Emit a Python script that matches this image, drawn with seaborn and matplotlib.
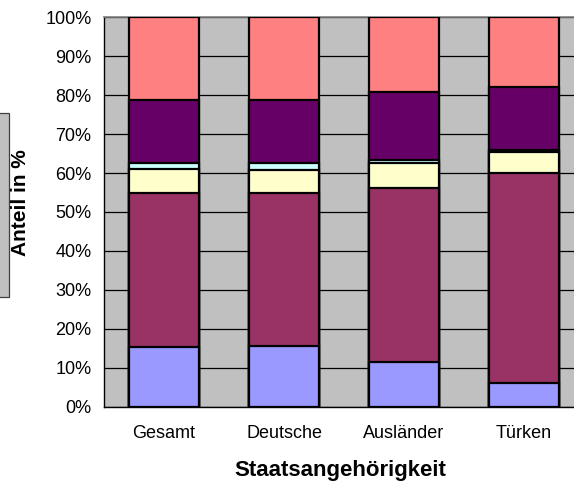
import matplotlib
matplotlib.use("Agg")
import matplotlib.pyplot as plt
import matplotlib.patches as mpatches
import seaborn as sns
import numpy as np

categories = ["Gesamt", "Deutsche", "Ausländer", "Türken"]
seg_blue = [15.3, 15.7, 11.4, 6.2]
seg_maroon = [39.7, 39.1, 44.8, 53.7]
seg_yellow = [6.0, 6.0, 6.5, 5.4]
seg_cyan = [1.7, 1.9, 0.6, 0.6]
seg_purple = [16.0, 16.0, 17.4, 16.2]
seg_salmon = [21.3, 21.3, 19.3, 17.9]

segments = [seg_blue, seg_maroon, seg_yellow, seg_cyan, seg_purple, seg_salmon]
colors = ["#9999FF", "#993366", "#FFFFCC", "#CCFFFF", "#660066", "#FF8080"]
yticklabels = [f"{v}%" for v in range(0, 101, 10)]

sns.set_style("white")
plt.rcParams["font.family"] = ["Liberation Sans", "DejaVu Sans"]
plt.rcParams["text.color"] = "black"
plt.rcParams["xtick.color"] = "black"
plt.rcParams["ytick.color"] = "black"

W, H = 574, 484
fig = plt.figure(figsize=(W / 100, H / 100), dpi=100)
left, right, top, bottom = 104, 584, 17.3, 406.7
ax = fig.add_axes([left / W, 1 - bottom / H, (right - left) / W, (bottom - top) / H])
ax.set_facecolor("#C0C0C0")

cum = np.cumsum(np.array(segments), axis=0)
for i in range(len(segments) - 1, -1, -1):
    sns.barplot(x=categories, y=cum[i], color=colors[i], saturation=1,
                width=0.583, edgecolor="black", linewidth=1.6, ax=ax, zorder=3)

ax.set_xlim(-0.5, 3.5)
ax.set_ylim(0, 100)
ax.set_yticks(range(0, 101, 10))
ax.set_yticklabels(yticklabels, fontsize=13)
ax.yaxis.grid(True, color="black", linewidth=0.9, zorder=0)
ax.set_axisbelow(True)

ax.set_xticks([0.5, 1.5, 2.5], minor=True)
ax.set_xticks(range(4))
ax.set_xticklabels(categories, fontsize=13)
ax.tick_params(axis="x", which="major", length=0, pad=13)
ax.tick_params(axis="x", which="minor", length=5, width=0.8, color="black", direction="out")
ax.tick_params(axis="y", length=5, width=0.8, color="black", direction="out", pad=4)

for s in ["left", "bottom"]:
    ax.spines[s].set_color("black")
    ax.spines[s].set_linewidth(1.0)
ax.spines["top"].set_color("#808080")
ax.spines["top"].set_linewidth(1.2)
ax.spines["right"].set_visible(False)

ax.set_xlabel("")
ax.set_ylabel("")
fig.text(340 / W, 1 - 476 / H, "Staatsangehörigkeit", ha="center", va="baseline",
         fontsize=16, fontweight="bold")
fig.text(21 / W, 1 - 203 / H, "Anteil in %", ha="center", va="center",
         rotation=90, fontsize=15, fontweight="bold")

rect = mpatches.Rectangle((-10 / W, 1 - 297 / H), 19 / W, (297 - 113) / H,
                          transform=fig.transFigure, facecolor="#C0C0C0",
                          edgecolor="#404040", linewidth=0.9)
fig.patches.append(rect)

fig.savefig("out.png", dpi=100)
